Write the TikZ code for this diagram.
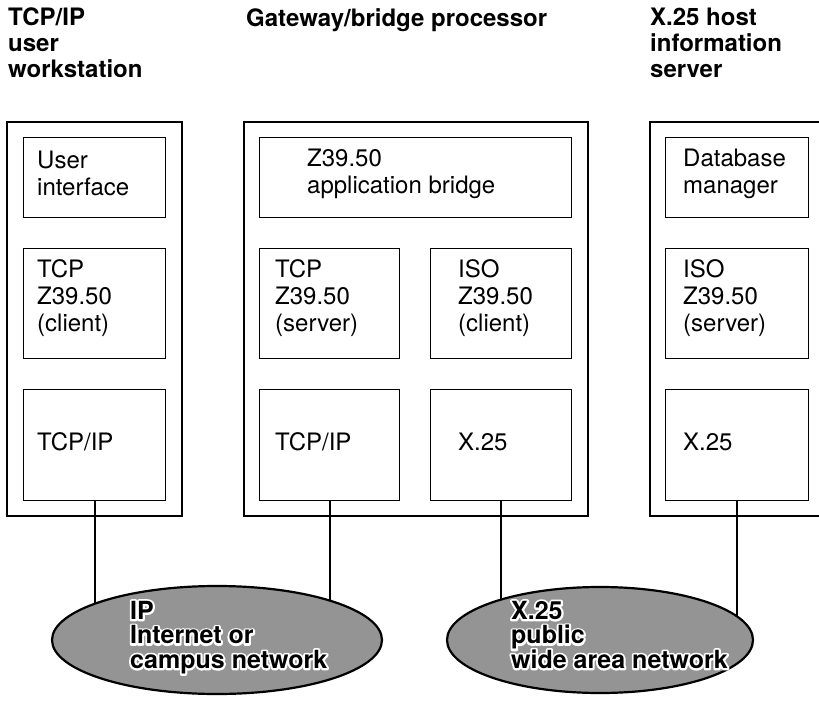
\documentclass[tikz,border=0pt]{standalone}
\usepackage{fontspec}
\setmainfont{TeX Gyre Heros}
\usetikzlibrary{shapes.geometric,backgrounds}

% black lettering with a white outline: a stroked white copy under the filled text
\newcommand\halotext[1]{\rlap{\special{pdf:literal direct 1 Tr 4 w 1 1 1 RG 1 j}#1\special{pdf:literal direct 0 Tr 0 0 0 RG 0 j 0.4 w}}#1}

\tikzset{
  outerbox/.style={draw, line width=2.2pt, inner sep=0pt, anchor=north west},
  inbox/.style={draw, line width=1.1pt, inner sep=0pt, anchor=north west},
  boxtext/.style={anchor=west, inner sep=0pt, align=left,
    font=\fontsize{24}{27}\selectfont},
  heading/.style={anchor=north west, inner sep=0pt, align=left,
    font=\fontsize{24}{26}\selectfont\bfseries},
  network/.style={ellipse, draw, line width=2.2pt, fill=black!42, inner sep=0pt},
  nettext/.style={anchor=north west, inner sep=0pt, align=left,
    font=\fontsize{25}{24.5}\selectfont\bfseries},
  link/.style={line width=2pt},
}

\begin{document}
\begin{tikzpicture}[x=1pt, y=-1pt]
\useasboundingbox (0,0) rectangle (819,703);
\clip (0,0) rectangle (819,703);

% column headings
\node[heading] (h1) at (8,8) {TCP/IP\\user\\workstation};
\node[heading] (h2) at (246,8) {Gateway/bridge processor};
\node[heading] (h3) at (650,8) {X.25 host\\information\\server};

% workstation
\node[outerbox, minimum width=175, minimum height=394] (ws) at (6,121) {};
\node[inbox, minimum width=142, minimum height=80]  (ws1) at (23,137) {};
\node[inbox, minimum width=142, minimum height=110] (ws2) at (23,248) {};
\node[inbox, minimum width=142, minimum height=111] (ws3) at (23,389) {};
\node[boxtext] (ws1t) at ([xshift=14pt,yshift=4pt]ws1.west) {User\\interface};
\node[boxtext] (ws2t) at ([xshift=14pt,yshift=5pt]ws2.west) {TCP\\Z39.50\\(client)};
\node[boxtext] (ws3t) at ([xshift=14pt,yshift=3pt]ws3.west) {TCP/IP};

% gateway / bridge processor
\node[outerbox, minimum width=344, minimum height=394] (gw) at (243,121) {};
\node[inbox, minimum width=312, minimum height=80]  (gw1) at (259,137) {};
\node[inbox, minimum width=140, minimum height=110] (gw2) at (259,248) {};
\node[inbox, minimum width=141, minimum height=110] (gw3) at (430,248) {};
\node[inbox, minimum width=140, minimum height=111] (gw4) at (259,389) {};
\node[inbox, minimum width=141, minimum height=111] (gw5) at (430,389) {};
\node[boxtext] (gw1t) at ([xshift=48pt,yshift=4pt]gw1.west) {Z39.50\\application bridge};
\node[boxtext] (gw2t) at ([xshift=16pt,yshift=5pt]gw2.west) {TCP\\Z39.50\\(server)};
\node[boxtext] (gw3t) at ([xshift=28pt,yshift=5pt]gw3.west) {ISO\\Z39.50\\(client)};
\node[boxtext] (gw4t) at ([xshift=16pt,yshift=3pt]gw4.west) {TCP/IP};
\node[boxtext] (gw5t) at ([xshift=28pt,yshift=3pt]gw5.west) {X.25};

% X.25 host information server
\node[outerbox, minimum width=175, minimum height=394] (hs) at (649,121) {};
\node[inbox, minimum width=143, minimum height=80]  (hs1) at (665,137) {};
\node[inbox, minimum width=143, minimum height=110] (hs2) at (665,248) {};
\node[inbox, minimum width=143, minimum height=111] (hs3) at (665,389) {};
\node[boxtext] (hs1t) at ([xshift=18pt,yshift=4pt]hs1.west) {Database\\manager};
\node[boxtext] (hs2t) at ([xshift=18pt,yshift=5pt]hs2.west) {ISO\\Z39.50\\(server)};
\node[boxtext] (hs3t) at ([xshift=18pt,yshift=3pt]hs3.west) {X.25};

% networks
\node[network, minimum width=330, minimum height=108] (ipnet) at (217,640) {};
\node[network, minimum width=306, minimum height=106] (x25net) at (600,640) {};
\node[nettext] (ipt) at (130,601)
  {\halotext{IP}\\\halotext{Internet or}\\\halotext{campus network}};
\node[nettext] (x25t) at (511,601)
  {\halotext{X.25}\\\halotext{public}\\\halotext{wide area network}};

% attachments to the networks (ends hidden under the network fill)
\begin{scope}[on background layer]
  \draw[link] (ws3.south) -- (ws3.south |- ipnet.center);
  \draw[link] (gw4.south) -- (gw4.south |- ipnet.center);
  \draw[link] (gw5.south) -- (gw5.south |- x25net.center);
  \draw[link] (hs3.south) -- (hs3.south |- x25net.center);
\end{scope}
\end{tikzpicture}
\end{document}
